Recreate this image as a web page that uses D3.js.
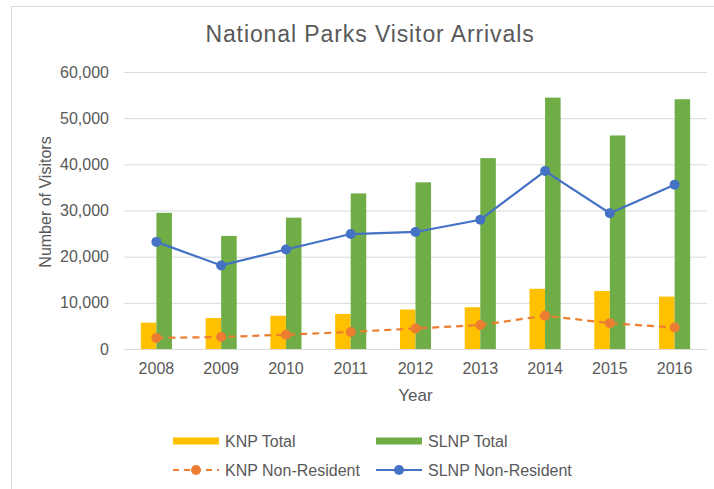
<!DOCTYPE html>
<html>
<head>
<meta charset="utf-8">
<script src="https://cdn.jsdelivr.net/npm/d3@7"></script>
<style>
  html, body { margin: 0; padding: 0; background: #fff; }
  svg { display: block; font-family: "Liberation Sans", Arial, sans-serif; }
</style>
</head>
<body>
<svg id="chart" width="714" height="489"></svg>
<script>
// Visitor arrivals per year for the two national parks
const years = ["2008", "2009", "2010", "2011", "2012", "2013", "2014", "2015", "2016"];
const knpTotal = [5700, 6700, 7200, 7600, 8550, 9050, 13050, 12550, 11350];
const slnpTotal = [29500, 24500, 28450, 33700, 36100, 41350, 54450, 46250, 54100];
const knpNonResident = [2400, 2600, 3100, 3700, 4450, 5200, 7200, 5600, 4650];
const slnpNonResident = [23200, 18100, 21550, 24900, 25350, 28000, 38550, 29400, 35600];
const yTicks = [0, 10000, 20000, 30000, 40000, 50000, 60000];

const colors = { knp: "#FFC000", slnp: "#70AD47", knpNR: "#ED7D31", slnpNR: "#4472C4" };
const textColor = "#595959";
const gridColor = "#d9d9d9";

const svg = d3.select("#chart");

// Chart frame
svg.append("rect")
  .attr("x", 11.5).attr("y", 6.5)
  .attr("width", 740).attr("height", 520)
  .attr("fill", "none").attr("stroke", gridColor).attr("stroke-width", 1);

const plot = { left: 124, right: 707, top: 72, bottom: 349 };

const x = d3.scaleBand().domain(years).range([plot.left, plot.right]).paddingInner(0.52).paddingOuter(0.26);
const sub = d3.scaleBand().domain(["knp", "slnp"]).range([0, x.bandwidth()]);
const y = d3.scaleLinear().domain([0, 60000]).range([plot.bottom, plot.top]);
const xc = d => x(d) + x.bandwidth() / 2;

// Title
svg.append("text")
  .attr("x", 370).attr("y", 42)
  .attr("text-anchor", "middle")
  .attr("font-size", 23).attr("letter-spacing", 0.9).attr("fill", textColor)
  .text("National Parks Visitor Arrivals");

// Gridlines and y-axis labels
const yAxis = d3.axisLeft(y)
  .tickValues(yTicks)
  .tickSize(-(plot.right - plot.left))
  .tickPadding(15)
  .tickFormat(d3.format(","));
const gy = svg.append("g").attr("transform", `translate(${plot.left},0)`).call(yAxis);
gy.select(".domain").remove();
gy.selectAll(".tick line").attr("stroke", gridColor).attr("stroke-width", 1);
gy.selectAll(".tick text").attr("fill", textColor).attr("font-size", 16)
  .attr("font-family", "Liberation Sans, Arial, sans-serif");

// x-axis labels
const xAxis = d3.axisBottom(x).tickSize(0).tickPadding(14);
const gx = svg.append("g").attr("transform", `translate(0,${plot.bottom})`).call(xAxis);
gx.select(".domain").remove();
gx.selectAll(".tick text").attr("fill", textColor).attr("font-size", 16)
  .attr("font-family", "Liberation Sans, Arial, sans-serif");

// Bars
const barGroups = [
  { key: "knp", values: knpTotal },
  { key: "slnp", values: slnpTotal }
];
barGroups.forEach(g => {
  svg.append("g").selectAll("rect")
    .data(years.map((yr, i) => ({ yr, v: g.values[i] })))
    .join("rect")
    .attr("x", d => x(d.yr) + sub(g.key))
    .attr("width", sub.bandwidth())
    .attr("y", d => y(d.v))
    .attr("height", d => y(0) - y(d.v))
    .attr("fill", colors[g.key]);
});

// Lines with markers
const line = d3.line().x(d => xc(d.yr)).y(d => y(d.v));
const lineSeries = [
  { key: "knpNR", values: knpNonResident, dash: "7,5" },
  { key: "slnpNR", values: slnpNonResident, dash: null }
];
lineSeries.forEach(s => {
  const pts = years.map((yr, i) => ({ yr, v: s.values[i] }));
  svg.append("path")
    .datum(pts)
    .attr("d", line)
    .attr("fill", "none")
    .attr("stroke", colors[s.key])
    .attr("stroke-width", 2.2)
    .attr("stroke-dasharray", s.dash);
  svg.append("g").selectAll("circle")
    .data(pts)
    .join("circle")
    .attr("cx", d => xc(d.yr))
    .attr("cy", d => y(d.v))
    .attr("r", 5)
    .attr("fill", colors[s.key]);
});

// Axis titles
svg.append("text")
  .attr("x", (plot.left + plot.right) / 2).attr("y", 401)
  .attr("text-anchor", "middle")
  .attr("font-size", 17).attr("fill", textColor)
  .text("Year");

svg.append("text")
  .attr("transform", "translate(51,202) rotate(-90)")
  .attr("text-anchor", "middle")
  .attr("font-size", 16).attr("fill", textColor)
  .text("Number of Visitors");

// Legend
const legendItems = [
  { label: "KNP Total", type: "bar", key: "knp", col: 0, row: 0 },
  { label: "SLNP Total", type: "bar", key: "slnp", col: 1, row: 0 },
  { label: "KNP Non-Resident", type: "line", key: "knpNR", dash: "6,5", col: 0, row: 1 },
  { label: "SLNP Non-Resident", type: "line", key: "slnpNR", dash: null, col: 1, row: 1 }
];
const legendCols = [173, 376];
const legendRows = [441, 470];
legendItems.forEach(it => {
  const gx0 = legendCols[it.col];
  const gy0 = legendRows[it.row];
  const g = svg.append("g").attr("transform", `translate(${gx0},${gy0})`);
  if (it.type === "bar") {
    g.append("rect").attr("x", 0).attr("y", -3.5).attr("width", 46).attr("height", 7)
      .attr("fill", colors[it.key]);
  } else {
    g.append("line").attr("x1", 0).attr("x2", 46).attr("y1", 0).attr("y2", 0)
      .attr("stroke", colors[it.key]).attr("stroke-width", 2)
      .attr("stroke-dasharray", it.dash);
    g.append("circle").attr("cx", 23).attr("cy", 0).attr("r", 5).attr("fill", colors[it.key]);
  }
  g.append("text").attr("x", 52).attr("y", 0).attr("dy", "0.35em")
    .attr("font-size", 16).attr("fill", textColor)
    .text(it.label);
});
</script>
</body>
</html>
